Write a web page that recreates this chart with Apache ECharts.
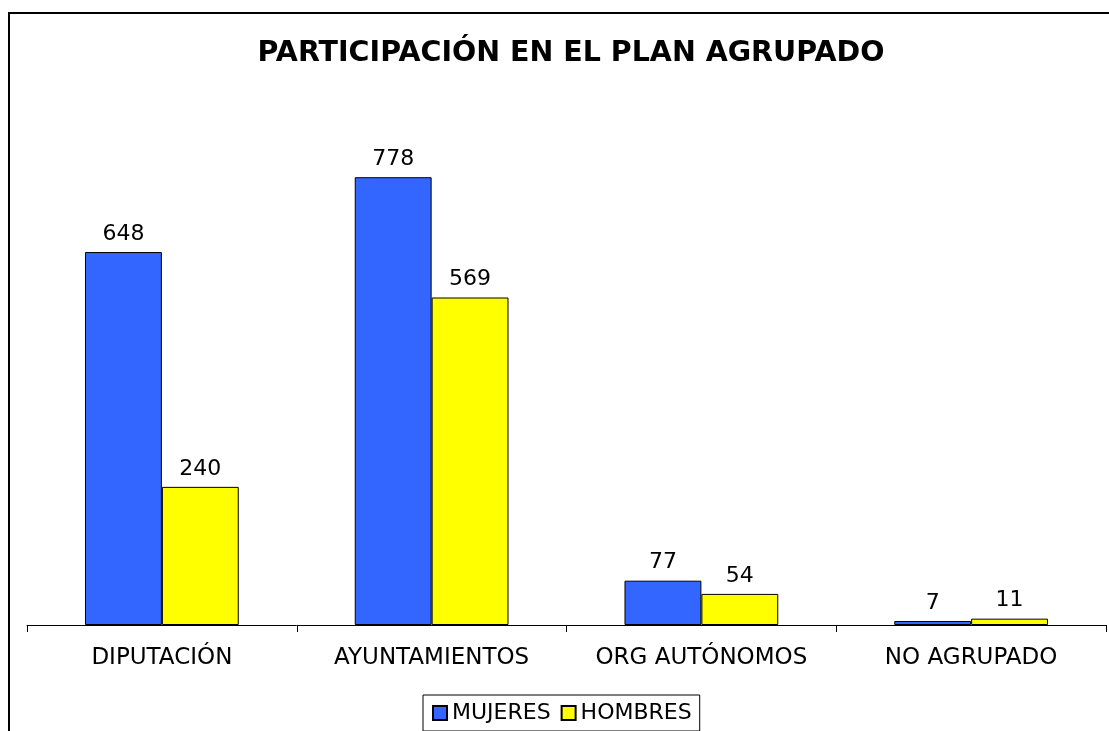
<!DOCTYPE html>
<html>
<head>
<meta charset="utf-8">
<script src="https://cdn.jsdelivr.net/npm/echarts@6/dist/echarts.min.js"></script>
<style>
html,body{margin:0;padding:0;background:#fff;}
#chart{width:1109px;height:731px;}
</style>
</head>
<body>
<div id="chart"></div>
<script>
// datos del gráfico
const categorias = ['DIPUTACIÓN', 'AYUNTAMIENTOS', 'ORG AUTÓNOMOS', 'NO AGRUPADO'];
const mujeres = [648, 778, 77, 7];
const hombres = [240, 569, 54, 11];

const chart = echarts.init(document.getElementById('chart'));
const fuente = '"DejaVu Sans", Verdana, sans-serif';

const option = {
  animation: false,
  backgroundColor: '#fff',
  textStyle: { fontFamily: fuente },
  graphic: [{
    type: 'rect',
    shape: { x: 9, y: 13, width: 1200, height: 1000 },
    style: { fill: 'none', stroke: '#000', lineWidth: 2 }
  }],
  title: {
    text: 'PARTICIPACIÓN EN EL PLAN AGRUPADO',
    left: 566,
    textAlign: 'center',
    top: 34,
    textStyle: { fontFamily: fuente, fontSize: 28.5, fontWeight: 'bold', color: '#000' }
  },
  legend: {
    data: ['MUJERES', 'HOMBRES'],
    left: 423,
    top: 695,
    padding: [7, 8, 7, 9],
    itemGap: 10,
    itemWidth: 14,
    itemHeight: 14,
    borderColor: '#000',
    borderWidth: 1,
    borderRadius: 0,
    icon: 'rect',
    textStyle: { fontFamily: fuente, fontSize: 22, color: '#000', padding: [0, 0, 0, 0] }
  },
  grid: { left: 27, right: 3, top: 107, bottom: 106, containLabel: false },
  xAxis: {
    type: 'category',
    data: categorias,
    axisLine: { lineStyle: { color: '#000', width: 1 } },
    axisTick: { show: true, interval: 0, length: 7, lineStyle: { color: '#000' } },
    axisLabel: { interval: 0, color: '#000', fontSize: 23, fontFamily: fuente, margin: 22 }
  },
  yAxis: {
    type: 'value',
    min: 0,
    max: 900,
    show: false,
    splitLine: { show: false }
  },
  series: [
    {
      name: 'MUJERES',
      type: 'bar',
      data: mujeres,
      barGap: '0%',
      barCategoryGap: '43%',
      itemStyle: { color: '#3366FF', borderColor: '#000', borderWidth: 1 },
      label: { show: true, position: 'top', distance: 7, color: '#000', fontSize: 22, fontFamily: fuente }
    },
    {
      name: 'HOMBRES',
      type: 'bar',
      data: hombres,
      itemStyle: { color: '#FFFF00', borderColor: '#000', borderWidth: 1 },
      label: { show: true, position: 'top', distance: 7, color: '#000', fontSize: 22, fontFamily: fuente }
    }
  ]
};
chart.setOption(option);
</script>
</body>
</html>
